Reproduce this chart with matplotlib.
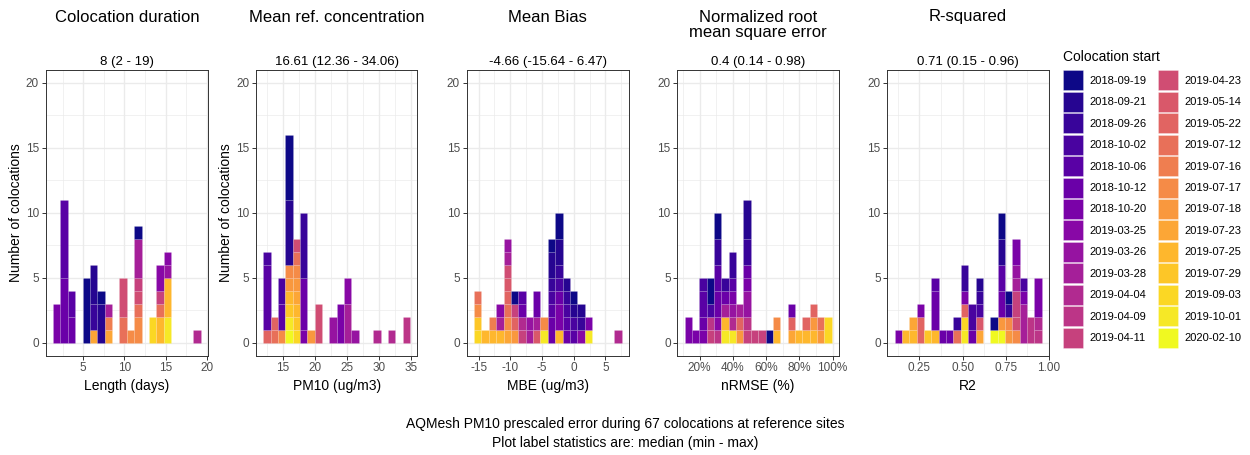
import numpy as np
import matplotlib
matplotlib.use("Agg")
import matplotlib.pyplot as plt
from matplotlib.patches import Patch

plt.rcParams['font.family'] = ['Liberation Sans', 'DejaVu Sans']

# Colocation start dates (fill levels, oldest first)
start_dates = ["2018-09-19", "2018-09-21", "2018-09-26", "2018-10-02", "2018-10-06",
               "2018-10-12", "2018-10-20", "2019-03-25", "2019-03-26", "2019-03-28",
               "2019-04-04", "2019-04-09", "2019-04-11", "2019-04-23", "2019-05-14",
               "2019-05-22", "2019-07-12", "2019-07-16", "2019-07-17", "2019-07-18",
               "2019-07-23", "2019-07-25", "2019-07-29", "2019-09-03", "2019-10-01",
               "2020-02-10"]

# Histogram contents: for every bin, the start-date index of each colocation in it
length_stacks = [
    [6, 6, 6], [5, 5, 5, 5, 5, 4, 4, 4, 4, 4, 4], [5, 5, 4, 4], [],
    [0, 0, 0, 0, 0], [20, 2, 2, 1, 1, 1], [1, 1, 1, 0], [20, 17, 9], [],
    [16, 16, 13, 13, 13], [18], [18, 18, 16, 13, 12, 9, 9, 9, 0], [],
    [23, 23], [21, 21, 16, 12, 7, 7], [24, 24, 21, 21, 21, 8, 7], [], [], [],
    [10],
]
conc_stacks = [
    [15, 4, 4, 4, 4, 4, 3], [16, 15], [18, 4, 4, 3, 3],
    [25, 24, 22, 21, 19, 18, 1, 1, 1, 1, 1, 0, 0, 0, 0, 0],
    [23, 22, 21, 20, 19, 18, 16, 13], [6, 5, 5, 5, 5, 2, 2, 2, 2, 2], [19],
    [13, 13, 13], [], [8, 8], [6, 6, 6], [9, 9, 9, 7, 7], [8], [], [], [10],
    [], [10], [], [11, 11],
]
mbe_stacks = [
    [23, 22, 18, 16], [21], [21, 17], [21, 9, 7],
    [20, 18, 16, 15, 14, 13, 9, 8], [19, 15, 12, 0], [12, 10, 5, 4], [9, 8],
    [14, 9, 5, 5], [24, 18], [5, 5, 4, 3, 2, 1, 1, 0],
    [21, 6, 6, 5, 3, 2, 1, 1, 0, 0], [5, 4, 3, 2, 1], [4, 3, 1, 0], [7, 2, 1],
    [24, 6], [], [], [], [10],
]
nrmse_stacks = [
    [6, 6], [6], [6, 5, 4, 4, 3], [12, 11, 3, 0, 0],
    [11, 7, 5, 5, 4, 4, 2, 2, 0, 0], [24, 21, 9, 5, 2],
    [24, 10, 8, 6, 4, 2, 2], [19, 15, 9],
    [12, 11, 8, 8, 6, 5, 2, 2, 1, 1, 1], [12], [12], [0], [21, 18], [],
    [20, 15, 5], [21], [21, 15], [21, 19, 15], [19, 16], [23, 23],
]
r2_stacks = [
    [6], [21], [21, 20], [15, 15, 6], [22], [21, 5, 5, 5, 4], [5], [5],
    [16, 2], [24, 23, 15, 6, 2, 2], [5, 3, 3], [20, 14, 3, 2, 1], [],
    [25, 0], [25, 19, 5, 5, 4, 4, 1, 1, 0, 0], [19, 18, 2, 0],
    [18, 13, 12, 12, 9, 8, 6, 6], [9, 9, 9, 6, 3], [11, 11],
    [11, 10, 6, 6, 6],
]

# Summary statistics: median, min, max
length_stats = (8, 1.77, 18.78)
conc_stats = (16.61, 12.36, 34.06)
mbe_stats = (-4.66, -15.64, 6.47)
nrmse_stats = (0.4, 0.14, 0.98)
r2_stats = (0.71, 0.148, 0.957)

titles = ["Colocation duration", "Mean ref. concentration", "Mean Bias",
          "Normalized root\nmean square error", "R-squared"]
xlabels = ["Length (days)", "PM10 (ug/m3)", "MBE (ug/m3)", "nRMSE (%)", "R2"]
xticks = [[5, 10, 15, 20], [15, 20, 25, 30, 35], [-15, -10, -5, 0, 5],
          [0.2, 0.4, 0.6, 0.8, 1.0], [0.25, 0.50, 0.75, 1.00]]
xticklabels = [["5", "10", "15", "20"], ["15", "20", "25", "30", "35"],
               ["-15", "-10", "-5", "0", "5"],
               ["20%", "40%", "60%", "80%", "100%"],
               ["0.25", "0.50", "0.75", "1.00"]]
stat_digits = [0, 2, 2, 2, 2]
yticks = [0, 5, 10, 15, 20]

all_stacks = [length_stacks, conc_stacks, mbe_stacks, nrmse_stacks, r2_stacks]
all_stats = [length_stats, conc_stats, mbe_stats, nrmse_stats, r2_stats]

n_bins = 20
colors = plt.cm.plasma(np.linspace(0, 1, len(start_dates)))


def bin_edges(lo, hi, bins):
    """Bin edges laid out the way ggplot2 does for `bins=`."""
    width = (hi - lo) / (bins - 1)
    boundary = width / 2
    shift = np.floor((lo - boundary) / width)
    origin = boundary + shift * width
    n_edges = int(np.floor((hi - origin) / width)) + 2
    return origin + width * np.arange(n_edges)


def fmt(v, d):
    return f"{round(v, d):g}"


W, H = 1250, 455
fig = plt.figure(figsize=(W / 100, H / 100), dpi=100)

panel_x = [(45.7, 208.0), (256.0, 417.3), (466.7, 629.0), (677.3, 839.0), (887.3, 1049.0)]
top_px, bot_px = 70.0, 355.7

for k in range(5):
    x0, x1 = panel_x[k]
    ax = fig.add_axes([x0 / W, 1 - bot_px / H, (x1 - x0) / W, (bot_px - top_px) / H])
    stacks = all_stacks[k]
    med, lo, hi = all_stats[k]
    edges = bin_edges(lo, hi, n_bins)
    centers = (edges[:-1] + edges[1:]) / 2
    width = edges[1] - edges[0]
    assert len(centers) == len(stacks)

    for c, stack in zip(centers, stacks):
        bottom = 0
        for cat in sorted(set(stack), reverse=True):
            n = stack.count(cat)
            ax.bar(c, n, width, bottom=bottom, color=colors[cat],
                   edgecolor=(1, 1, 1, 0.18), linewidth=0.4, zorder=3)
            bottom += n

    span = edges[-1] - edges[0]
    ax.set_xlim(edges[0] - 0.05 * span, edges[-1] + 0.05 * span)
    ax.set_ylim(-1, 21)

    # grid: major at ticks, minor halfway between
    xt = np.array(xticks[k], dtype=float)
    step = xt[1] - xt[0]
    minor_x = np.concatenate([[xt[0] - step / 2], xt + step / 2])
    for v in minor_x:
        ax.axvline(v, color="#ebebeb", lw=0.5, zorder=0)
    for v in xt:
        ax.axvline(v, color="#ebebeb", lw=1.0, zorder=0)
    for v in [2.5, 7.5, 12.5, 17.5]:
        ax.axhline(v, color="#ebebeb", lw=0.5, zorder=0)
    for v in yticks:
        ax.axhline(v, color="#ebebeb", lw=1.0, zorder=0)

    ax.set_xticks(xticks[k])
    ax.set_xticklabels(xticklabels[k])
    ax.set_yticks(yticks)
    ax.tick_params(axis="both", length=2.8, width=0.7, color="#333333",
                   labelcolor="#4d4d4d", labelsize=8.5, pad=2)
    for s in ax.spines.values():
        s.set_color("#333333")
        s.set_linewidth(0.7)

    ax.set_xlabel(xlabels[k], fontsize=10, labelpad=3)
    if k < 2:
        ax.set_ylabel("Number of colocations", fontsize=10, labelpad=2)

    cx = (x0 + x1) / 2 / W
    fig.text(cx, 1 - 9.5 / H, titles[k], ha="center", va="top", fontsize=12,
             linespacing=1.05)
    d = stat_digits[k]
    fig.text(cx, 1 - 65 / H, f"{fmt(med, d)} ({fmt(lo, d)} - {fmt(hi, d)})",
             ha="center", va="baseline", fontsize=9.5)

# legend: title set separately so the key block can sit below it
fig.text(1063 / W, 1 - 57 / H, "Colocation start", ha="left", va="center",
         fontsize=10)
handles = [Patch(facecolor=colors[i], edgecolor=(1, 1, 1, 0.4), linewidth=0.5)
           for i in range(len(start_dates))]
fig.legend(handles, start_dates, ncol=2,
           loc="upper left", bbox_to_anchor=(1063 / W, 1 - 70.5 / H),
           frameon=False, fontsize=8,
           handlelength=1.8, handleheight=2.39, labelspacing=0.13,
           handletextpad=0.6, columnspacing=1.0, borderpad=0, borderaxespad=0)

n_colocations = sum(len(s) for s in length_stacks)
fig.text(0.5, 1 - 424 / H,
         f"AQMesh PM10 prescaled error during {n_colocations} colocations at reference sites",
         ha="center", va="center", fontsize=10)
fig.text(0.5, 1 - 443 / H, "Plot label statistics are: median (min - max)",
         ha="center", va="center", fontsize=10)

fig.savefig("out.png", dpi=100, facecolor="white")
